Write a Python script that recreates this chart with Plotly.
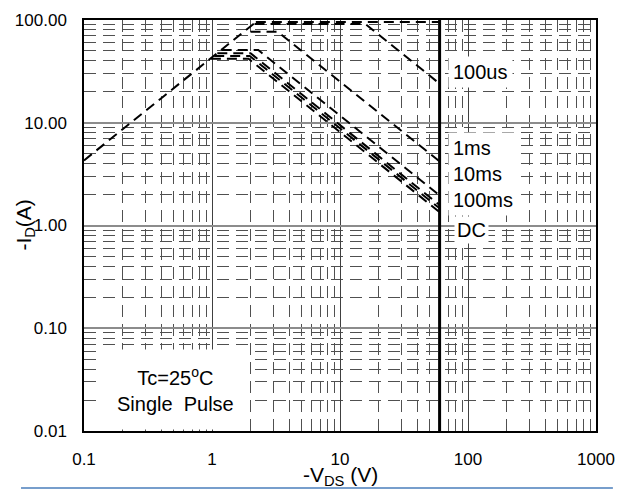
import plotly.graph_objects as go

# ---- data ----
v_ron = [0.1, 2.2]
i_ron = [4.3, 95.5]

v_top = [2.2, 60]
i_top = [95.5, 95.5]

v_100us = [2.15, 15.8, 60]
i_100us = [91.5, 91.5, 24]

v_1ms = [2.0, 3.25, 60]
i_1ms = [77, 77, 4.2]

v_10ms = [1.19, 2.3, 60]
i_10ms = [51, 51, 1.96]

v_100ms = [1.10, 2.0, 60]
i_100ms = [47.5, 47.5, 1.58]

v_dc1 = [1.04, 1.97, 60]
i_dc1 = [44.7, 44.7, 1.47]

v_dc2 = [0.98, 1.93, 60]
i_dc2 = [42, 42, 1.35]

v_bv = [60, 60]
i_bv = [0.01, 100]

x_tickvals = [0.1, 1, 10, 100, 1000]
x_ticktext = ["0.1", "1", "10", "100", "1000"]
y_tickvals = [0.01, 0.1, 1, 10, 100]
y_ticktext = ["0.01", "0.10", "1.00", "10.00", "100.00"]

FONT = "Liberation Sans, Arial, sans-serif"

fig = go.Figure()
series = [
    (v_ron, i_ron), (v_top, i_top), (v_100us, i_100us), (v_1ms, i_1ms),
    (v_10ms, i_10ms), (v_100ms, i_100ms), (v_dc1, i_dc1), (v_dc2, i_dc2),
]
for vx, iy in series:
    fig.add_trace(go.Scatter(x=vx, y=iy, mode="lines",
                             line=dict(color="black", width=2, dash="10px,6px"),
                             showlegend=False, hoverinfo="skip"))
fig.add_trace(go.Scatter(x=v_bv, y=i_bv, mode="lines",
                         line=dict(color="black", width=3),
                         showlegend=False, hoverinfo="skip"))

# page body has an 8px margin, so the figure is 8px smaller and margins shifted
fig.update_layout(
    width=620, height=481,
    margin=dict(l=76, r=32, t=12, b=58, autoexpand=False),
    paper_bgcolor="white", plot_bgcolor="white",
    font=dict(family=FONT, color="black", size=17),
    showlegend=False,
    xaxis=dict(
        type="log", range=[-1, 3],
        tickvals=x_tickvals, ticktext=x_ticktext,
        showgrid=True, gridcolor="#404040", gridwidth=1,
        minor=dict(dtick="D1", showgrid=True, gridcolor="#505050",
                   gridwidth=1, griddash="12px,7px"),
        showline=True, linecolor="black", linewidth=1.5, mirror=True,
        ticks="", ticklabelstandoff=12,
        tickfont=dict(size=17),
        zeroline=False, automargin=False,
    ),
    yaxis=dict(
        type="log", range=[-2, 2],
        tickvals=y_tickvals, ticktext=y_ticktext,
        showgrid=True, gridcolor="#8c8c8c", gridwidth=1.5,
        minor=dict(dtick="D1", showgrid=True, gridcolor="#505050",
                   gridwidth=1, griddash="12px,7px"),
        showline=True, linecolor="black", linewidth=1.5, mirror=True,
        ticks="", ticklabelstandoff=12,
        tickfont=dict(size=17),
        zeroline=False, automargin=False,
    ),
)

ann_font = dict(family=FONT, size=20, color="black")
fig.add_annotation(xref="paper", yref="paper", x=0.711, y=0.8735,
                   xanchor="left", yanchor="middle", text="100us",
                   showarrow=False, bgcolor="white", borderpad=4, font=ann_font)
fig.add_annotation(xref="paper", yref="paper", x=0.711, y=0.625,
                   xanchor="left", yanchor="middle", align="left",
                   text="1ms<br>10ms<br>100ms",
                   showarrow=False, bgcolor="white", borderpad=4, font=ann_font)
fig.add_annotation(xref="paper", yref="paper", x=0.722, y=0.489,
                   xanchor="left", yanchor="middle", text="DC",
                   showarrow=False, bgcolor="white", borderpad=2, font=ann_font)
fig.add_annotation(xref="paper", yref="paper", x=0.178, y=0.0998,
                   xanchor="center", yanchor="middle", align="center",
                   text="Tc=25<sup>o</sup>C<br>Single\u00a0 Pulse",
                   showarrow=False, bgcolor="white", borderpad=14, font=ann_font)
# axis titles
fig.add_annotation(xref="paper", yref="paper", x=-0.117, y=0.5,
                   xanchor="center", yanchor="middle", textangle=-90,
                   text="-I<sub>D</sub>(A)", showarrow=False,
                   font=dict(family=FONT, size=21, color="black"))
fig.add_annotation(xref="paper", yref="paper", x=0.5, y=-0.1095,
                   xanchor="center", yanchor="middle",
                   text="-V<sub>DS</sub> (V)", showarrow=False,
                   font=dict(family=FONT, size=21, color="black"))

fig.add_shape(type="line", xref="paper", yref="paper",
              x0=-0.123, x1=1.033, y0=-0.1387, y1=-0.1387,
              line=dict(color="#4a7ebb", width=1.5))

fig.write_html("out.html")
